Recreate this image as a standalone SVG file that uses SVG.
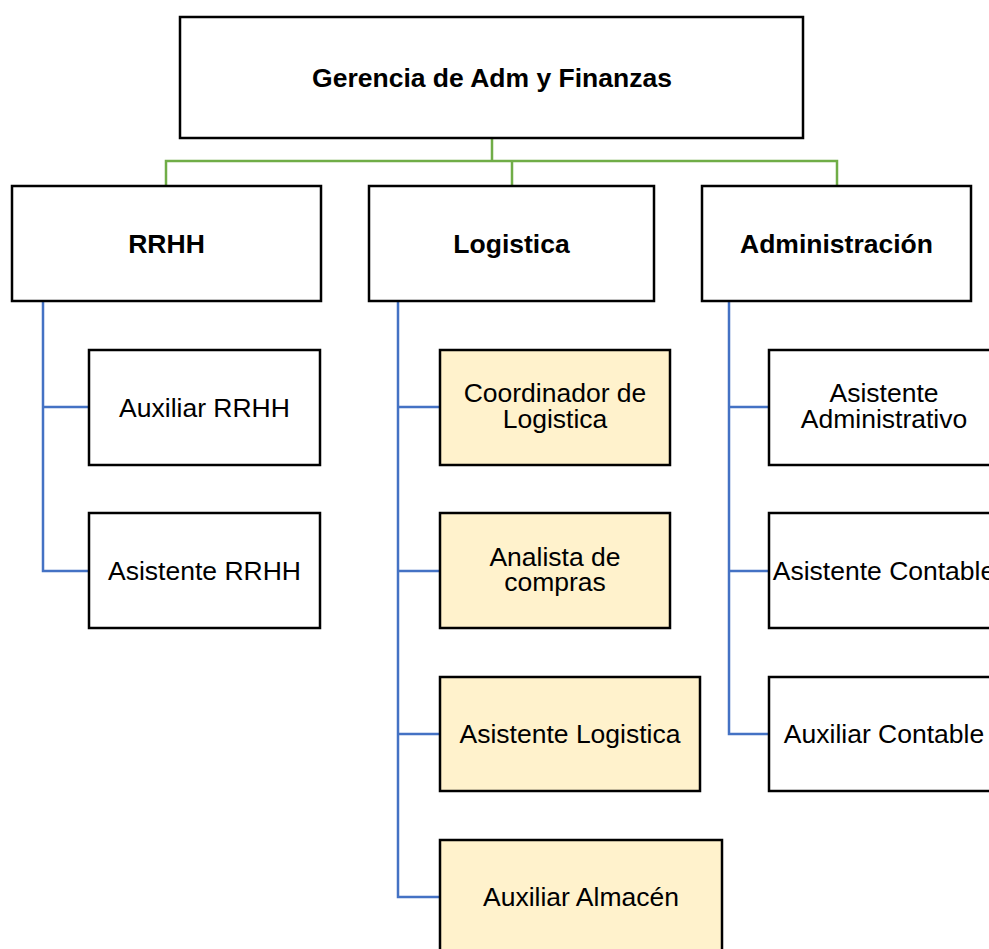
<svg xmlns="http://www.w3.org/2000/svg" width="989" height="949" viewBox="0 0 989 949">
<style>
.box{fill:#ffffff;stroke:#000000;stroke-width:2.5}
.yel{fill:#FFF2CC;stroke:#000000;stroke-width:2.5}
.t{font-family:"Liberation Sans",Arial,sans-serif;font-size:26.5px;fill:#000;text-anchor:middle}
.b{font-weight:bold}
.g{fill:none;stroke:#70AD47;stroke-width:2.5}
.bl{fill:none;stroke:#4472C4;stroke-width:2.5}
</style>
<rect width="989" height="949" fill="#ffffff"/>
<g id="connectors">
<path class="g" d="M492 138V161M166 186V161H837V186M512 161V186"/>
<path class="bl" d="M43 301V571H89M43 407H89"/>
<path class="bl" d="M398 301V897H440M398 407H440M398 571H440M398 734H440"/>
<path class="bl" d="M729 301V734H769M729 407H769M729 571H769"/>
</g>
<g id="gerencia"><rect class="box" x="180" y="17" width="623" height="121"/><text class="t b" x="492" y="86.5">Gerencia de Adm y Finanzas</text></g>
<g id="rrhh"><rect class="box" x="12" y="186" width="309" height="115"/><text class="t b" x="166.5" y="253">RRHH</text></g>
<g id="logistica"><rect class="box" x="369" y="186" width="285" height="115"/><text class="t b" x="511.5" y="253">Logistica</text></g>
<g id="administracion"><rect class="box" x="702" y="186" width="269" height="115"/><text class="t b" x="836.5" y="253">Administración</text></g>
<g id="auxiliar-rrhh"><rect class="box" x="89" y="350" width="231" height="115"/><text class="t" x="204.5" y="416.5">Auxiliar RRHH</text></g>
<g id="asistente-rrhh"><rect class="box" x="89" y="513" width="231" height="115"/><text class="t" x="204.5" y="580">Asistente RRHH</text></g>
<g id="coordinador"><rect class="yel" x="440" y="350" width="230" height="115"/><text class="t" x="555" y="402">Coordinador de</text><text class="t" x="555" y="427.5">Logistica</text></g>
<g id="analista"><rect class="yel" x="440" y="513" width="230" height="115"/><text class="t" x="555" y="565.5">Analista de</text><text class="t" x="555" y="591">compras</text></g>
<g id="asistente-logistica"><rect class="yel" x="440" y="677" width="260" height="114"/><text class="t" x="570" y="743">Asistente Logistica</text></g>
<g id="auxiliar-almacen"><rect class="yel" x="440" y="840" width="282" height="120"/><text class="t" x="581" y="906">Auxiliar Almacén</text></g>
<g id="asistente-administrativo"><rect class="box" x="769" y="350" width="230" height="115"/><text class="t" x="884" y="402">Asistente</text><text class="t" x="884" y="427.5">Administrativo</text></g>
<g id="asistente-contable"><rect class="box" x="769" y="513" width="230" height="115"/><text class="t" x="884" y="580">Asistente Contable</text></g>
<g id="auxiliar-contable"><rect class="box" x="769" y="677" width="230" height="114"/><text class="t" x="884" y="743">Auxiliar Contable</text></g>
</svg>
